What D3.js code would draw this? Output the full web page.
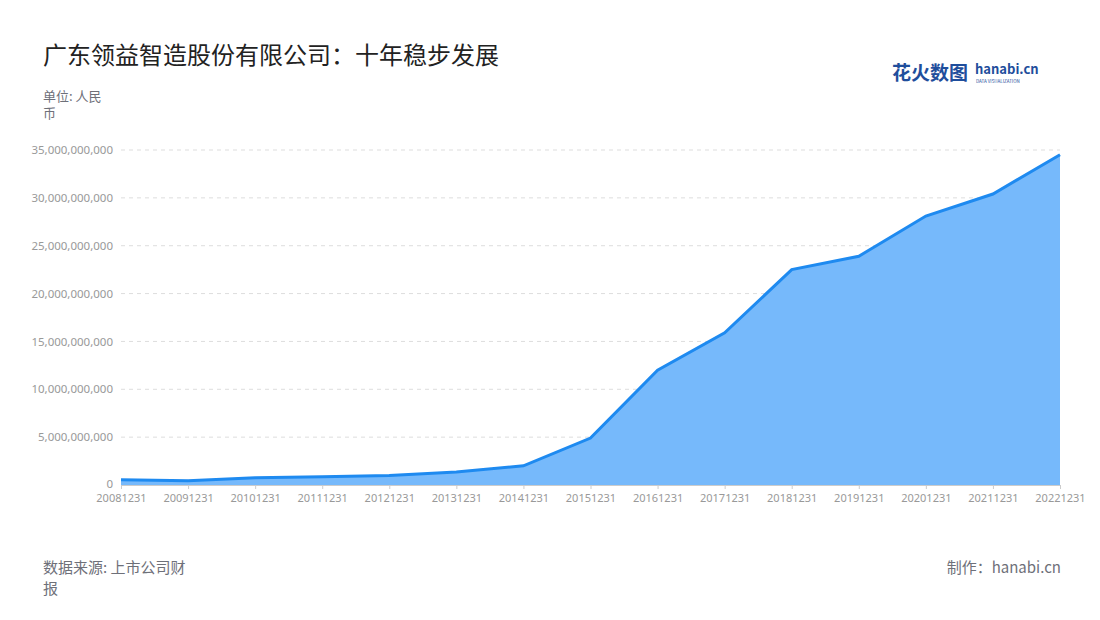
<!DOCTYPE html>
<html><head><meta charset="utf-8">
<script src="https://cdn.jsdelivr.net/npm/d3@7"></script>
<style>body{margin:0;background:#fff;font-family:"Noto Sans CJK SC","Noto Sans",sans-serif}</style>
</head><body><svg id="c" width="1100" height="620"></svg>
<script>
const categories=["20081231","20091231","20101231","20111231","20121231","20131231","20141231","20151231","20161231","20171231","20181231","20191231","20201231","20211231","20221231"];
const values=[0.55e9,0.45e9,0.75e9,0.85e9,1.0e9,1.35e9,2.0e9,4.9e9,12.0e9,15.9e9,22.5e9,23.9e9,28.1e9,30.4e9,34.5e9];
const yTicks=[0,5e9,10e9,15e9,20e9,25e9,30e9,35e9];
const svg=d3.select("#c");
const x=d3.scalePoint().domain(categories).range([121,1060]);
const y=d3.scaleLinear().domain([0,35e9]).range([485,150]);
svg.append("text").attr("x",43).attr("y",64).attr("font-size",24).attr("fill","#222").text("广东领益智造股份有限公司：十年稳步发展");
svg.append("text").attr("x",43).attr("y",101).attr("font-size",13).attr("fill","#6e7079").text("单位: 人民");
svg.append("text").attr("x",43).attr("y",118).attr("font-size",13).attr("fill","#6e7079").text("币");
const lg=svg.append("g");
lg.append("text").attr("x",892).attr("y",80).attr("font-size",19).attr("font-weight","bold").attr("fill","#1f4e9c").text("花火数图");
lg.append("text").attr("x",975).attr("y",74).attr("font-size",13).attr("font-weight","bold").attr("fill","#1f4e9c").text("hanabi.cn");
lg.append("text").attr("x",976).attr("y",83).attr("font-size",4.5).attr("fill","#1f4e9c").text("DATA VISUALIZATION");
const ya=svg.append("g").attr("transform","translate(121,0)").call(d3.axisLeft(y).tickValues(yTicks).tickFormat(d3.format(",")).tickSize(0).tickPadding(8));
ya.select(".domain").remove();
ya.selectAll("text").attr("fill","#999").attr("font-size",11.5).attr("font-family","Noto Sans");
ya.selectAll(".tick text").filter(d=>d===0).attr("dy","0.2em");
svg.append("g").selectAll("line").data(yTicks.slice(1)).join("line").attr("x1",121).attr("x2",1060).attr("y1",d=>y(d)).attr("y2",d=>y(d)).attr("stroke","#ddd").attr("stroke-dasharray","4,4");
svg.append("path").datum(values).attr("fill","#76b9fb").attr("d",d3.area().x((d,i)=>x(categories[i])).y0(y(0)).y1(d=>y(d)));
svg.append("path").datum(values).attr("fill","none").attr("stroke","#1e8af0").attr("stroke-width",3).attr("d",d3.line().x((d,i)=>x(categories[i])).y(d=>y(d)));
const xa=svg.append("g").attr("transform","translate(0,485)").call(d3.axisBottom(x).tickSize(4).tickPadding(5));
xa.select(".domain").attr("stroke","#ccc");xa.selectAll("line").attr("stroke","#ccc");
xa.selectAll("text").attr("fill","#999").attr("font-size",11).attr("font-family","Noto Sans");
svg.append("text").attr("x",43).attr("y",573).attr("font-size",15).attr("fill","#6e7079").text("数据来源: 上市公司财");
svg.append("text").attr("x",43).attr("y",594).attr("font-size",15).attr("fill","#6e7079").text("报");
svg.append("text").attr("x",1061).attr("y",573).attr("text-anchor","end").attr("font-size",15).attr("fill","#6e7079").text("制作：hanabi.cn");
</script></body></html>
